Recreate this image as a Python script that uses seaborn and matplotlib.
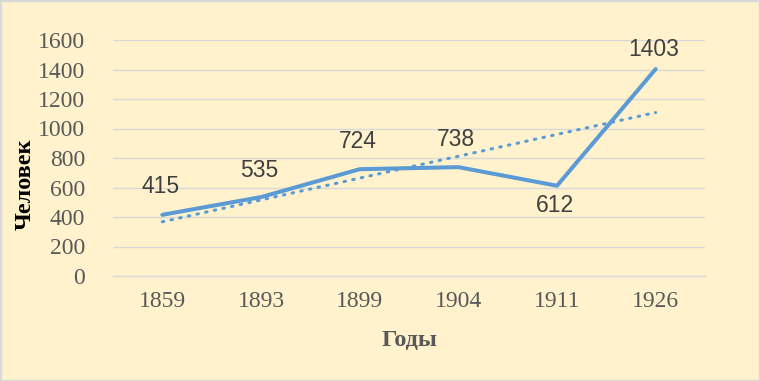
import numpy as np
import pandas as pd
import matplotlib
matplotlib.use("Agg")
import matplotlib.pyplot as plt
import seaborn as sns

years = ["1859", "1893", "1899", "1904", "1911", "1926"]
people = [415, 535, 724, 738, 612, 1403]
yticks = [0, 200, 400, 600, 800, 1000, 1200, 1400, 1600]

sns.set_theme(style="white")
plt.rcParams["font.family"] = ["Liberation Serif", "DejaVu Serif"]

BG = "#FFF2CC"
LINE = "#5B9BD5"
GRID = "#D9D9D9"
TXT = "#595959"

W, H = 760, 381
fig = plt.figure(figsize=(7.6, 3.81), dpi=100, facecolor=BG)
fig.patches.append(plt.Rectangle((0, 0), 1, 1, transform=fig.transFigure,
                                 fill=False, edgecolor=GRID, linewidth=2.5, zorder=10))
ax = fig.add_axes([113 / W, 1 - 276 / H, (705 - 113) / W, (276 - 40) / H])
ax.set_facecolor(BG)

df = pd.DataFrame({"pos": np.arange(len(years)), "year": years, "people": people})

# trend line (linear regression over category index)
coef = np.polyfit(df["pos"], df["people"], 1)
trend = np.polyval(coef, df["pos"])
ax.plot(df["pos"], trend, linestyle=(0, (0.5, 2.4)), color=LINE, linewidth=2.2,
        dash_capstyle="round", zorder=2)

sns.lineplot(data=df, x="pos", y="people", ax=ax, color=LINE, linewidth=2.9,
             solid_capstyle="round", zorder=3)

offsets = [28, 27, 28, 28, -20, 20]
for p, v, off in zip(df["pos"], df["people"], offsets):
    ax.annotate(str(v), (p, v), xytext=(-2, off), textcoords="offset pixels",
                ha="center", va="center", fontsize=16.5, color="#404040",
                family=["Liberation Sans", "DejaVu Sans"])

ax.set_xlim(-0.5, len(years) - 0.5)
ax.set_ylim(0, 1600)
ax.set_yticks(yticks)
ax.set_yticklabels([str(t) for t in yticks])
ax.set_xticks(df["pos"])
ax.set_xticklabels(years)
ax.set_xticks(np.arange(-0.5, len(years), 1.0), minor=True)
ax.tick_params(axis="y", length=0, pad=20, labelsize=17, labelcolor=TXT)
ax.tick_params(axis="x", which="major", length=0, pad=11, labelsize=17, labelcolor=TXT)
ax.tick_params(axis="x", which="minor", length=5, width=1, color=GRID, direction="out")
ax.grid(axis="y", color=GRID, linewidth=1)
ax.set_axisbelow(True)
for s in ["top", "right", "left"]:
    ax.spines[s].set_visible(False)
ax.spines["bottom"].set_color(GRID)
ax.spines["bottom"].set_linewidth(1)

ax.set_xlabel("Годы", fontsize=17.5, fontweight="bold", color=TXT)
ax.set_ylabel("Человек", fontsize=17.5, fontweight="bold", color="black")
ax.xaxis.set_label_coords(0.5, -(340 - 276) / (276 - 40))
ax.yaxis.set_label_coords(-(113 - 25) / (705 - 113), (276 - 184) / (276 - 40))
ax.xaxis.label.set_va("center")
ax.yaxis.label.set_va("center")

fig.savefig("out.png", dpi=100, facecolor=BG)
